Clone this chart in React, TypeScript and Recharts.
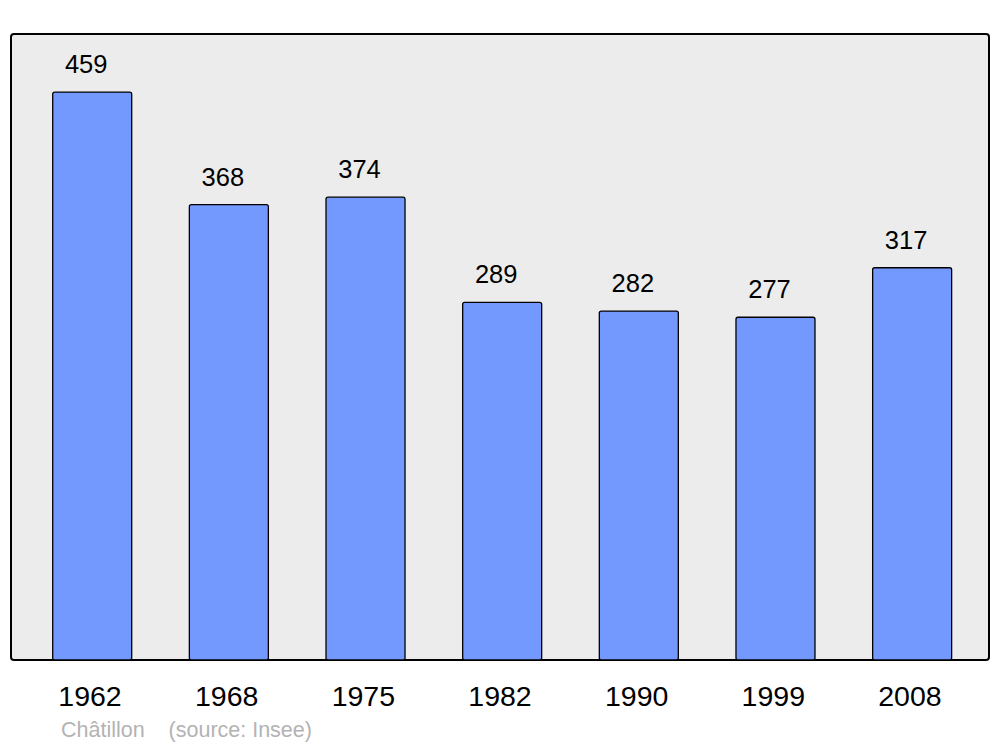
import React from 'react';
import { BarChart, Bar, XAxis, YAxis, LabelList } from 'recharts';

const years = ['1962', '1968', '1975', '1982', '1990', '1999', '2008'];
const population = [459, 368, 374, 289, 282, 277, 317];

const data = years.map((year, i) => ({ year, population: population[i] }));

const FONT = '"Liberation Sans", Arial, sans-serif';

const YearTick = ({ x, y, payload }: { x?: number; y?: number; payload?: { value: string } }) => (
  <text x={(x ?? 0) - 2} y={(y ?? 0) + 34} textAnchor="middle" dominantBaseline="central"
    fontSize={28.5} fontFamily={FONT} fill="#000">
    {payload?.value}
  </text>
);

const ValueLabel = (props: { x?: number; y?: number; width?: number; value?: number }) => {
  const { x = 0, y = 0, width = 0, value } = props;
  return (
    <text x={Number(x) + Number(width) / 2 - 6} y={Number(y) - 28} textAnchor="middle"
      dominantBaseline="central" fontSize={25.5} fontFamily={FONT} fill="#000">
      {value}
    </text>
  );
};

export default function App() {
  return (
    <div style={{ position: 'absolute', left: 0, top: 0, width: 1000, height: 747, background: '#fff' }}>
      {/* plot frame */}
      <div style={{
        position: 'absolute', left: 10, top: 33, width: 980, height: 628, boxSizing: 'border-box',
        border: '2px solid #000', borderRadius: 4, background: '#ececec'
      }} />
      <div style={{ position: 'absolute', left: 0, top: 0 }}>
        <BarChart width={1000} height={747} data={data} margin={{ top: 34, right: 11, left: 11, bottom: 47 }}>
          <XAxis dataKey="year" height={40} axisLine={false} tickLine={false} tickSize={0}
            padding={{ left: 12.7, right: 8.7 }} tick={<YearTick />} interval={0} />
          <YAxis hide domain={[0, 505.9]} />
          <Bar dataKey="population" fill="#7399ff" stroke="#000" strokeWidth={1.3} radius={2}
            barSize={79} isAnimationActive={false}>
            <LabelList dataKey="population" content={<ValueLabel />} />
          </Bar>
        </BarChart>
      </div>
      <div style={{
        position: 'absolute', left: 61, top: 717, fontFamily: FONT, fontSize: 21.5, color: '#b3b3b3',
        whiteSpace: 'pre', lineHeight: '26px'
      }}>
        {'Châtillon    (source: Insee)'}
      </div>
    </div>
  );
}
